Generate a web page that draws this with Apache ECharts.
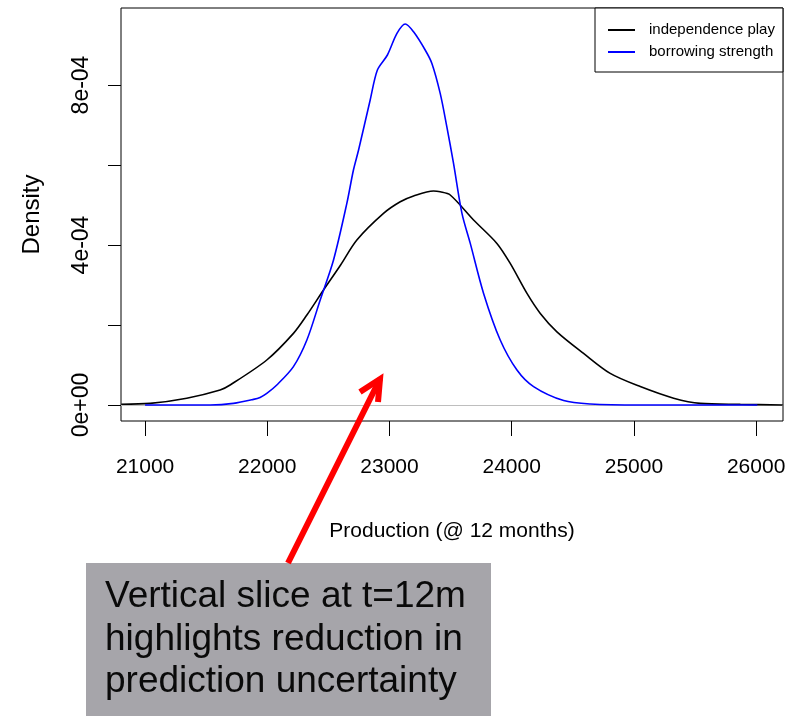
<!DOCTYPE html>
<html>
<head>
<meta charset="utf-8">
<script src="https://cdn.jsdelivr.net/npm/echarts@6/dist/echarts.min.js"></script>
<style>
html,body{margin:0;padding:0;background:#fff;}
#chart{width:799px;height:716px;}
</style>
</head>
<body>
<div id="chart"></div>
<script>
// ---- data (density in units of 1e-4) ----
const seriesNames = ['independence play', 'borrowing strength'];
const indepX = [20805, 21041, 21341, 21614, 21696, 21996, 22214, 22324, 22460, 22600, 22733, 22951, 23088, 23197, 23360, 23415, 23497, 23688, 23879, 23988, 24125, 24234, 24370, 24588, 24806, 25052, 25325, 25543, 25871, 26218];
const indepY = [0.02, 0.04, 0.17, 0.375, 0.5, 1.125, 1.79, 2.25, 2.875, 3.5, 4.125, 4.79, 5.08, 5.225, 5.35, 5.33, 5.25, 4.625, 4.04, 3.54, 2.79, 2.29, 1.83, 1.29, 0.79, 0.46, 0.17, 0.04, 0.017, 0.0];
const borrowX = [21000, 21532, 21723, 21887, 21941, 21996, 22078, 22214, 22324, 22433, 22542, 22651, 22705, 22747, 22842, 22901, 22983, 23061, 23129, 23197, 23292, 23347, 23415, 23469, 23524, 23593, 23661, 23770, 23906, 24043, 24179, 24425, 24643, 25052, 26010];
const borrowY = [0, 0, 0.04, 0.14, 0.19, 0.29, 0.5, 0.96, 1.625, 2.625, 3.625, 5.04, 5.875, 6.375, 7.625, 8.375, 8.75, 9.29, 9.525, 9.33, 8.875, 8.54, 7.79, 6.96, 6.04, 4.79, 4.04, 2.79, 1.625, 0.875, 0.46, 0.11, 0.025, 0, 0];
const xTicks = [21000, 22000, 23000, 24000, 25000, 26000];
const yTicks = [0, 2e-4, 4e-4, 6e-4, 8e-4];
const yLabelValues = [0, 4e-4, 8e-4];
const yLabelText = ['0e+00', '4e-04', '8e-04'];
const xRange = [20803, 26220];
const yRange = [-4e-5, 9.925e-4];
const xTitle = 'Production (@ 12 months)';
const yTitle = 'Density';
const noteLines = ['Vertical slice at t=12m', 'highlights reduction in', 'prediction uncertainty'];

const SCALE = 1e-4;
const toPairs = (xs, ys) => xs.map((x, i) => [x, ys[i] * SCALE]);
const FONT = '"Liberation Sans", Arial, Helvetica, sans-serif';

const chart = echarts.init(document.getElementById('chart'), null, {renderer: 'canvas'});
chart.setOption({
  animation: false,
  backgroundColor: '#ffffff',
  textStyle: {fontFamily: FONT},
  grid: {left: 121, right: 16, top: 8, bottom: 295, show: true, borderColor: '#000', borderWidth: 1, backgroundColor: 'transparent'},
  xAxis: {
    type: 'value', min: xRange[0], max: xRange[1],
    axisLine: {show: false, onZero: false},
    splitLine: {show: false},
    axisTick: {show: true, length: 15, lineStyle: {color: '#000', width: 1}, customValues: xTicks},
    axisLabel: {show: true, margin: 36, fontSize: 21, color: '#000', fontFamily: FONT, customValues: xTicks, formatter: v => String(v)},
    name: xTitle, nameLocation: 'middle', nameGap: 100,
    nameTextStyle: {fontSize: 21, color: '#000', fontFamily: FONT}
  },
  yAxis: {
    type: 'value', min: yRange[0], max: yRange[1],
    axisLine: {show: false, onZero: false},
    splitLine: {show: false},
    axisTick: {show: true, length: 13, lineStyle: {color: '#000', width: 1}, customValues: yTicks},
    axisLabel: {show: true, rotate: 90, margin: 28, fontSize: 23, color: '#000', fontFamily: FONT,
      customValues: yLabelValues,
      formatter: v => { const i = yLabelValues.findIndex(t => Math.abs(t - v) < 1e-9); return i >= 0 ? yLabelText[i] : ''; }},
    name: yTitle, nameLocation: 'middle', nameGap: 77, nameRotate: 90,
    nameTextStyle: {fontSize: 24, color: '#000', fontFamily: FONT}
  },
  legend: {
    orient: 'vertical', left: 595, top: 8,
    padding: [14, 8, 12, 13], itemGap: 6,
    backgroundColor: '#fff', borderColor: '#000', borderWidth: 1, borderRadius: 0,
    itemWidth: 27, itemHeight: 2, icon: 'rect',
    textStyle: {fontSize: 15, lineHeight: 16, color: '#000', fontFamily: FONT, padding: [0, 0, 0, 9]},
    data: seriesNames
  },
  series: [
    {
      name: seriesNames[0], type: 'line', data: toPairs(indepX, indepY),
      showSymbol: false, symbol: 'none', smooth: 0.3,
      lineStyle: {color: '#000', width: 1.6}, itemStyle: {color: '#000'}, z: 3,
      markLine: {silent: true, symbol: ['none', 'none'], label: {show: false},
        lineStyle: {color: '#bebebe', width: 1, type: 'solid'}, data: [{yAxis: 0}], z: 1}
    },
    {
      name: seriesNames[1], type: 'line', data: toPairs(borrowX, borrowY),
      showSymbol: false, symbol: 'none', smooth: 0.3,
      lineStyle: {color: '#0000ff', width: 1.6}, itemStyle: {color: '#0000ff'}, z: 4
    }
  ],
  graphic: [
    {type: 'rect', left: 86, top: 563, shape: {width: 405, height: 153}, style: {fill: '#a6a5aa'}, z: 10},
    {type: 'text', left: 105, top: 576, z: 11,
      style: {text: noteLines.join('\n'), font: '37px ' + FONT, lineHeight: 42.5, fill: '#0a0a0a'}},
    {type: 'polyline', z: 12, shape: {points: [[288, 563], [380, 379]]},
      style: {stroke: '#ff0000', lineWidth: 6, fill: null}},
    {type: 'polyline', z: 12, shape: {points: [[360, 392], [380, 379], [378, 402]]},
      style: {stroke: '#ff0000', lineWidth: 6, fill: null, lineJoin: 'miter'}}
  ]
});
</script>
</body>
</html>
